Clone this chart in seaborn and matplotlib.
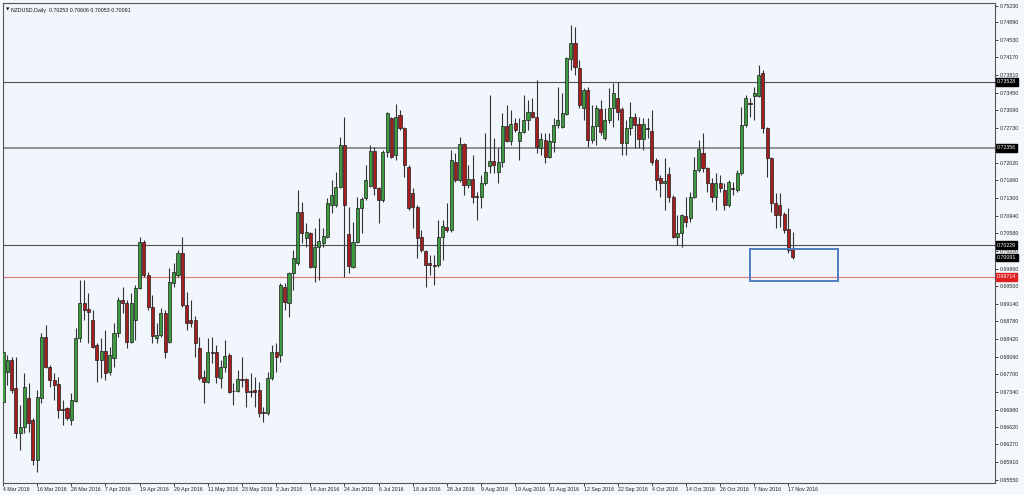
import numpy as np
import matplotlib
matplotlib.use("Agg")
import matplotlib.pyplot as plt
from matplotlib.patches import Rectangle
import matplotlib.transforms as mtransforms
from matplotlib import font_manager
import seaborn as sns

# ---------------- data ----------------
symbol_title = "NZDUSD,Daily  0.70253 0.70606 0.70053 0.70091"

opens = [0.6713,0.6775,0.6799,0.6742,0.6650,0.6662,0.6721,0.6677,0.6595,0.6721,
         0.6846,0.6785,0.6758,0.6750,0.6699,0.6701,0.6677,0.6716,0.6844,0.6916,
         0.6903,0.6881,0.6830,0.6799,0.6818,0.6775,0.6803,0.6854,0.6922,0.6916,
         0.6836,0.6881,0.6946,0.7040,0.6973,0.6907,0.6844,0.6850,0.6895,0.6836,
         0.6957,0.6973,0.7018,0.6911,0.6881,0.6881,0.6824,0.6764,0.6754,0.6816,
         0.6816,0.6762,0.6785,0.6810,0.6736,0.6736,0.6760,0.6760,0.6736,0.6738,
         0.6738,0.6693,0.6691,0.6762,0.6816,0.6810,0.6948,0.6916,0.6977,0.6997,
         0.7101,0.7048,0.7059,0.6989,0.7030,0.7038,0.7050,0.7116,0.7116,0.7152,
         0.7238,0.7057,0.6989,0.7040,0.7110,0.7130,0.7154,0.7226,0.7150,0.7126,
         0.7224,0.7293,0.7218,0.7299,0.7273,0.7193,0.7140,0.7112,0.7050,0.7022,
         0.6997,0.6993,0.6993,0.7050,0.7071,0.7065,0.7204,0.7167,0.7240,0.7157,
         0.7169,0.7134,0.7132,0.7161,0.7195,0.7206,0.7183,0.7204,0.7277,0.7246,
         0.7283,0.7246,0.7265,0.7289,0.7306,0.7295,0.7232,0.7248,0.7214,0.7244,
         0.7279,0.7275,0.7302,0.7414,0.7446,0.7396,0.7314,0.7351,0.7248,0.7277,
         0.7312,0.7253,0.7289,0.7314,0.7334,0.7312,0.7242,0.7273,0.7295,0.7281,
         0.7251,0.7273,0.7267,0.7208,0.7171,0.7161,0.7179,0.7132,0.7050,0.7059,
         0.7093,0.7089,0.7132,0.7187,0.7222,0.7191,0.7161,0.7132,0.7161,0.7146,
         0.7116,0.7150,0.7146,0.7181,0.7279,0.7324,0.7338,0.7338,0.7385,0.7273,
         0.7212,0.7120,0.7116,0.7097,0.7067,0.70253]

highs = [0.6820,0.6810,0.6805,0.6805,0.6707,0.6773,0.6752,0.6681,0.6738,0.6854,
         0.6871,0.6789,0.6773,0.6765,0.6718,0.6703,0.6732,0.6865,0.6963,0.6963,
         0.6936,0.6901,0.6834,0.6844,0.6861,0.6826,0.6875,0.6928,0.6948,0.6922,
         0.6936,0.6952,0.7050,0.7044,0.6979,0.6932,0.6875,0.6905,0.6901,0.6987,
         0.6997,0.7024,0.7050,0.6938,0.6922,0.6889,0.6846,0.6779,0.6844,0.6846,
         0.6830,0.6799,0.6840,0.6814,0.6752,0.6779,0.6805,0.6762,0.6773,0.6765,
         0.6754,0.6703,0.6775,0.6830,0.6834,0.6956,0.6956,0.6979,0.7024,0.7146,
         0.7122,0.7079,0.7061,0.7069,0.7089,0.7069,0.7130,0.7167,0.7183,0.7254,
         0.7295,0.7112,0.7081,0.7132,0.7132,0.7197,0.7238,0.7234,0.7152,0.7228,
         0.7306,0.7295,0.7322,0.7310,0.7275,0.7197,0.7150,0.7116,0.7065,0.7024,
         0.7014,0.7014,0.7085,0.7085,0.7120,0.7228,0.7222,0.7254,0.7242,0.7197,
         0.7218,0.7142,0.7177,0.7263,0.7340,0.7252,0.7232,0.7304,0.7320,0.7310,
         0.7293,0.7293,0.7340,0.7330,0.7334,0.7371,0.7263,0.7263,0.7263,0.7293,
         0.7357,0.7344,0.7418,0.7483,0.7479,0.7412,0.7355,0.7357,0.7320,0.7320,
         0.7330,0.7314,0.7355,0.7365,0.7367,0.7316,0.7289,0.7326,0.7304,0.7295,
         0.7293,0.7293,0.7310,0.7212,0.7177,0.7212,0.7193,0.7136,0.7095,0.7097,
         0.7132,0.7142,0.7214,0.7249,0.7263,0.7193,0.7171,0.7181,0.7177,0.7161,
         0.7167,0.7163,0.7187,0.7316,0.7340,0.7334,0.7357,0.7402,0.7391,0.7275,
         0.7214,0.7140,0.7140,0.7101,0.7110,0.70606]

lows = [0.6707,0.6748,0.6732,0.6640,0.6615,0.6650,0.6652,0.6585,0.6571,0.6711,
        0.6783,0.6744,0.6718,0.6681,0.6666,0.6677,0.6666,0.6713,0.6836,0.6881,
        0.6834,0.6824,0.6754,0.6762,0.6758,0.6769,0.6785,0.6846,0.6895,0.6824,
        0.6834,0.6840,0.6944,0.6969,0.6901,0.6834,0.6834,0.6846,0.6803,0.6834,
        0.6948,0.6969,0.6907,0.6861,0.6867,0.6805,0.6758,0.6711,0.6752,0.6793,
        0.6752,0.6742,0.6775,0.6732,0.6707,0.6734,0.6744,0.6703,0.6724,0.6703,
        0.6683,0.6673,0.6687,0.6758,0.6775,0.6795,0.6901,0.6887,0.6942,0.6993,
        0.7038,0.7030,0.6987,0.6959,0.6963,0.7030,0.7048,0.7099,0.7112,0.7150,
        0.6969,0.6977,0.6987,0.7038,0.7059,0.7126,0.7152,0.7136,0.7079,0.7122,
        0.7214,0.7212,0.7208,0.7269,0.7173,0.7106,0.7069,0.7008,0.7020,0.6948,
        0.6973,0.6952,0.6989,0.7003,0.7061,0.7061,0.7163,0.7163,0.7136,0.7150,
        0.7120,0.7085,0.7110,0.7157,0.7181,0.7181,0.7161,0.7193,0.7244,0.7238,
        0.7265,0.7208,0.7263,0.7269,0.7293,0.7222,0.7218,0.7202,0.7212,0.7224,
        0.7273,0.7273,0.7300,0.7391,0.7381,0.7314,0.7289,0.7234,0.7242,0.7238,
        0.7259,0.7248,0.7283,0.7275,0.7289,0.7218,0.7218,0.7259,0.7232,0.7232,
        0.7228,0.7253,0.7197,0.7146,0.7132,0.7106,0.7122,0.7048,0.7034,0.7030,
        0.7071,0.7081,0.7130,0.7183,0.7183,0.7142,0.7122,0.7106,0.7142,0.7106,
        0.7112,0.7136,0.7142,0.7177,0.7275,0.7295,0.7289,0.7336,0.7263,0.7173,
        0.7101,0.7069,0.7071,0.7059,0.7018,0.70053]

closes = [0.6816,0.6799,0.6738,0.6650,0.6662,0.6744,0.6671,0.6595,0.6724,0.6846,
          0.6785,0.6758,0.6748,0.6697,0.6697,0.6681,0.6718,0.6844,0.6916,0.6901,
          0.6897,0.6826,0.6799,0.6818,0.6773,0.6810,0.6854,0.6922,0.6916,0.6836,
          0.6916,0.6946,0.7040,0.6973,0.6907,0.6848,0.6850,0.6895,0.6816,0.6959,
          0.6979,0.7018,0.6911,0.6875,0.6875,0.6834,0.6762,0.6754,0.6816,0.6814,
          0.6765,0.6785,0.6807,0.6734,0.6735,0.6760,0.6758,0.6734,0.6734,0.6734,
          0.6691,0.6691,0.6762,0.6816,0.6805,0.6952,0.6918,0.6977,0.7008,0.7101,
          0.7059,0.7061,0.6989,0.7030,0.7042,0.7052,0.7120,0.7136,0.7152,0.7238,
          0.7116,0.6991,0.7040,0.7110,0.7128,0.7167,0.7226,0.7150,0.7126,0.7224,
          0.7304,0.7214,0.7295,0.7273,0.7197,0.7110,0.7112,0.7048,0.7024,0.6993,
          0.6993,0.6991,0.7050,0.7073,0.7065,0.7208,0.7167,0.7240,0.7157,0.7169,
          0.7132,0.7132,0.7161,0.7183,0.7206,0.7197,0.7204,0.7277,0.7246,0.7281,
          0.7269,0.7265,0.7289,0.7306,0.7295,0.7234,0.7251,0.7214,0.7246,0.7279,
          0.7289,0.7304,0.7416,0.7446,0.7398,0.7320,0.7351,0.7248,0.7277,0.7314,
          0.7265,0.7289,0.7314,0.7344,0.7306,0.7242,0.7273,0.7295,0.7279,0.7251,
          0.7281,0.7271,0.7204,0.7167,0.7161,0.7165,0.7132,0.7050,0.7059,0.7095,
          0.7081,0.7132,0.7187,0.7230,0.7191,0.7161,0.7132,0.7161,0.7150,0.7116,
          0.7163,0.7148,0.7181,0.7279,0.7334,0.7322,0.7344,0.7381,0.7273,0.7212,
          0.7120,0.7095,0.7095,0.7065,0.7024,0.70091]

date_labels = ["4 Mar 2016", "16 Mar 2016", "28 Mar 2016", "7 Apr 2016", "19 Apr 2016",
               "29 Apr 2016", "11 May 2016", "23 May 2016", "2 Jun 2016", "14 Jun 2016",
               "24 Jun 2016", "6 Jul 2016", "18 Jul 2016", "28 Jul 2016", "9 Aug 2016",
               "19 Aug 2016", "31 Aug 2016", "12 Sep 2016", "22 Sep 2016", "4 Oct 2016",
               "14 Oct 2016", "26 Oct 2016", "7 Nov 2016", "17 Nov 2016"]
bars_per_label = 8

price_ticks = [0.75230, 0.74890, 0.74530, 0.74170, 0.73810, 0.73450, 0.73090, 0.72730,
               0.72020, 0.71660, 0.71300, 0.70940, 0.70580, 0.70220, 0.69860, 0.69500,
               0.69140, 0.68780, 0.68420, 0.68060, 0.67700, 0.67340, 0.66980, 0.66620,
               0.66270, 0.65910, 0.65550]

# horizontal levels: where the lines sit in the picture, and the tag text shown for each
level_lines = [0.73669, 0.72321, 0.70340]
level_tags = ["0.73528", "0.72356", "0.70229"]
support_line = 0.69687
support_tag = "0.69714"
current_price = 0.70091

zone_bars = [175.0, 195.6]
zone_prices = [0.69605, 0.70258]

# ---------------- plot ----------------
sns.set_theme(style="white")
installed = {f.name for f in font_manager.fontManager.ttflist}
narrow = [f for f in ["Liberation Sans Narrow", "DejaVu Sans Condensed"] if f in installed]
plt.rcParams["font.family"] = narrow + ["Liberation Sans", "DejaVu Sans"]
FS = 4.3 if narrow else 3.8

BG = "#F0F6FC"
GREEN = "#3E9A3E"
RED = "#A61E1E"
EDGE = "#1E1E1E"

fig = plt.figure(figsize=(10.24, 4.95), dpi=100, facecolor="#F4F8FC")
ax = fig.add_axes([3 / 1024, 12 / 495, 992 / 1024, 480 / 495])
ax.set_facecolor(BG)

o = np.array(opens); h = np.array(highs); l = np.array(lows); c = np.array(closes)
x = np.arange(len(o))
up = c >= o
colors = np.where(up, GREEN, RED)

ax.vlines(x, l, h, color="#333333", linewidth=0.8, zorder=2)
ax.bar(x, np.abs(c - o), bottom=np.minimum(o, c), width=0.72, color=colors,
       edgecolor=EDGE, linewidth=0.5, zorder=3)

# horizontal levels
ax.axhline(level_lines[0], color="#505050", linewidth=0.8, zorder=1)
ax.axhline(level_lines[1], color="#8a8a8a", linewidth=1.3, zorder=1)
ax.axhline(level_lines[2], color="#505050", linewidth=0.8, zorder=1)
ax.axhline(support_line, color="#E57F7F", linewidth=0.9, zorder=1)

# highlighted zone
ax.add_patch(Rectangle((zone_bars[0], zone_prices[0]), zone_bars[1] - zone_bars[0],
                       zone_prices[1] - zone_prices[0], fill=False,
                       edgecolor="#4F7FBF", linewidth=1.4, zorder=4))

ax.set_xlim(0.05, 232.4)
ax.set_ylim(0.65480, 0.75282)

for s in ax.spines.values():
    s.set_color("#555555")
    s.set_linewidth(0.8)

ax.yaxis.tick_right()
ax.set_yticks(price_ticks)
ax.set_yticklabels([f"{v:.5f}" for v in price_ticks])
ax.tick_params(axis="y", which="major", direction="out", length=2.5, width=0.6,
               labelsize=FS, pad=1.2, colors="#222222", right=True, left=False)

xt = [i * bars_per_label for i in range(len(date_labels))]
ax.set_xticks(xt)
ax.set_xticklabels(date_labels, ha="left")
ax.tick_params(axis="x", which="major", direction="out", length=2, width=0.6,
               labelsize=FS, pad=0.8, colors="#222222", bottom=True)
ax.grid(False)

# price tags on right axis
trans = mtransforms.blended_transform_factory(ax.transAxes, ax.transData)
for p, t in zip(level_lines + [current_price], level_tags + [f"{current_price:.5f}"]):
    ax.text(1.0022, p, t, transform=trans, fontsize=FS, color="white",
            va="center", ha="left", zorder=6, clip_on=False,
            bbox=dict(boxstyle="square,pad=0.22", facecolor="black", edgecolor="black"))
ax.text(1.0022, support_line, support_tag, transform=trans, fontsize=FS,
        color="white", va="center", ha="left", zorder=6, clip_on=False,
        bbox=dict(boxstyle="square,pad=0.22", facecolor="#E02020", edgecolor="#E02020"))

# title
ax.text(0.0035, 0.990, "\u25BC", transform=ax.transAxes, fontsize=3.2,
        color="#111111", va="top", ha="left", family="DejaVu Sans")
ax.text(0.0085, 0.990, symbol_title, transform=ax.transAxes, fontsize=FS,
        color="#111111", va="top", ha="left")

fig.savefig("out.png", dpi=100, facecolor=fig.get_facecolor())
